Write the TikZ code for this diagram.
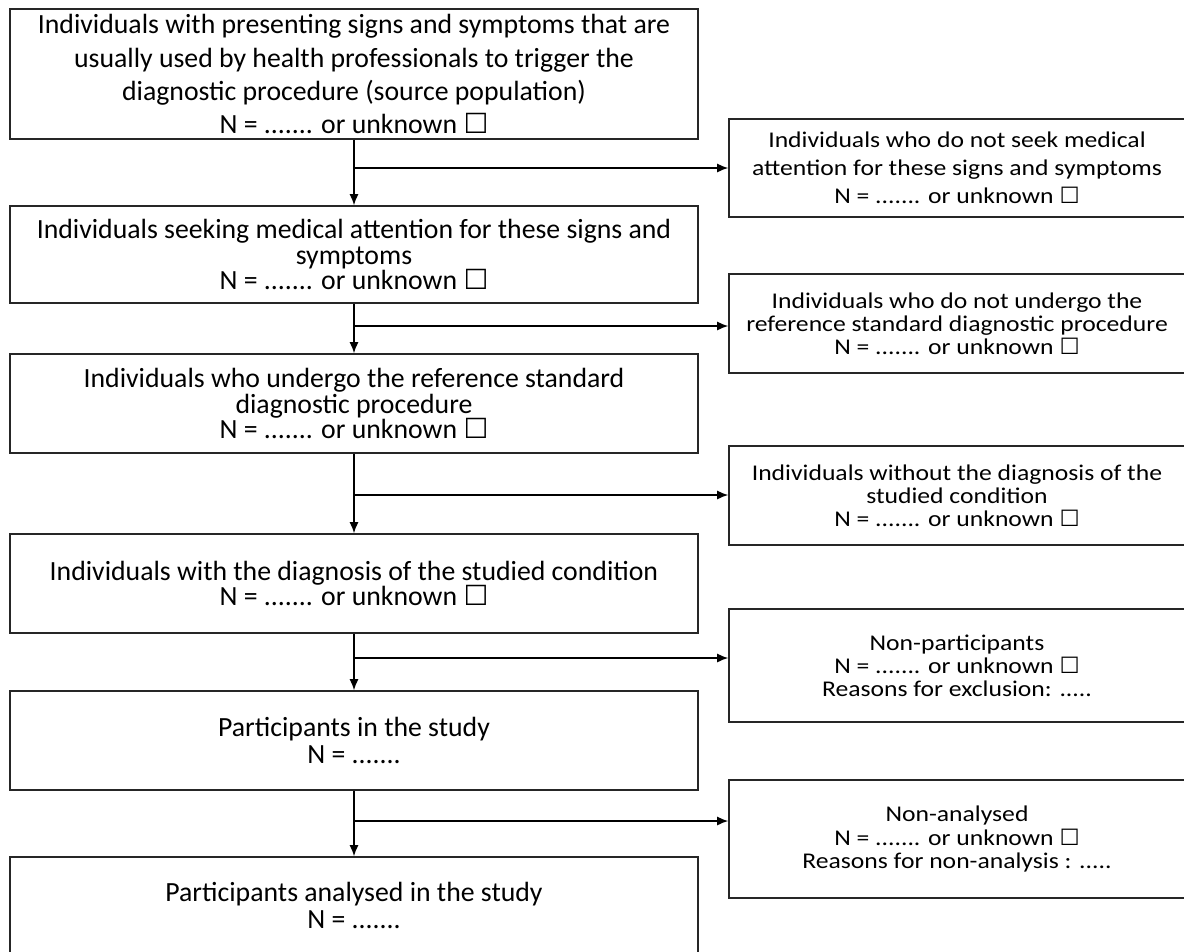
\documentclass[tikz,border=0pt]{standalone}
\usepackage{fontspec}
\usepackage{xcolor}
\usepackage{tikz}
\usetikzlibrary{arrows.meta}
\setmainfont{Carlito}
\newfontfamily\narrowfont{Carlito}
\newfontfamily\widefont[FakeStretch=1.14]{Carlito}
\newfontfamily\checkfont{DejaVu Sans}
\newcommand{\nunknown}{N = ....... or unknown {\checkfont ☐}}

\begin{document}
\begin{tikzpicture}[
    mainbox/.style={rectangle, draw=black!85, line width=0.9pt, minimum width=13.76cm, align=center, font=\narrowfont\fontsize{15.8}{14.5}\selectfont},
    sidebox/.style={rectangle, draw=black!85, line width=0.9pt, minimum width=9.12cm, align=center, font=\widefont\fontsize{12.8}{13.1}\selectfont},
    flow/.style={line width=0.8pt, -{Latex[length=2.2mm,width=1.8mm]}}]
    \useasboundingbox (0,0) rectangle (23.68,-19.02);
        % main column
        \node at (7.08,-1.48) [mainbox, minimum height=2.6cm, font=\narrowfont\fontsize{15.8}{18.8}\selectfont] (b1) {Individuals with presenting signs and symptoms that are\\usually used by health professionals to trigger the\\diagnostic procedure (source population)\\\nunknown};
        \node at (7.08,-5.09) [mainbox, minimum height=1.94cm] (b2) {Individuals seeking medical attention for these signs and\\symptoms\\\nunknown};
        \node at (7.08,-8.07) [mainbox, minimum height=1.98cm] (b3) {Individuals who undergo the reference standard\\diagnostic procedure\\\nunknown};
        \node at (7.08,-11.67) [mainbox, minimum height=1.98cm] (b4) {Individuals with the diagnosis of the studied condition\\\nunknown};
        \node at (7.08,-14.81) [mainbox, minimum height=1.98cm, font=\narrowfont\fontsize{15.8}{15.4}\selectfont] (b5) {Participants in the study\\N = .......};
        \node at (7.08,-18.10) [mainbox, minimum height=1.92cm, font=\narrowfont\fontsize{15.8}{15.4}\selectfont] (b6) {Participants analysed in the study\\N = .......};
        % side column
        \node at (19.14,-3.36) [sidebox, minimum height=1.96cm, font=\widefont\fontsize{12.8}{16}\selectfont] (r1) {Individuals who do not seek medical\\attention for these signs and symptoms\\\nunknown};
        \node at (19.14,-6.47) [sidebox, minimum height=1.98cm] (r2) {Individuals who do not undergo the\\reference standard diagnostic procedure\\\nunknown};
        \node at (19.14,-9.91) [sidebox, minimum height=1.98cm] (r3) {Individuals without the diagnosis of the\\studied condition\\\nunknown};
        \node at (19.14,-13.31) [sidebox, minimum height=2.26cm] (r4) {Non-participants\\\nunknown\\Reasons for exclusion: .....};
        \node at (19.14,-16.78) [sidebox, minimum height=2.36cm] (r5) {Non-analysed\\\nunknown\\Reasons for non-analysis : .....};
        % branch points
        \coordinate (j1) at (7.1,-3.36);
        \coordinate (j2) at (7.1,-6.52);
        \coordinate (j3) at (7.1,-9.90);
        \coordinate (j4) at (7.1,-13.16);
        \coordinate (j5) at (7.1,-16.42);
        \draw[flow] (b1) -- (b2);
        \draw[flow] (b2) -- (b3);
        \draw[flow] (b3) -- (b4);
        \draw[flow] (b4) -- (b5);
        \draw[flow] (b5) -- (b6);
        \draw[flow] (j1) -- (j1 -| r1.west);
        \draw[flow] (j2) -- (j2 -| r2.west);
        \draw[flow] (j3) -- (j3 -| r3.west);
        \draw[flow] (j4) -- (j4 -| r4.west);
        \draw[flow] (j5) -- (j5 -| r5.west);
\end{tikzpicture}
\end{document}
